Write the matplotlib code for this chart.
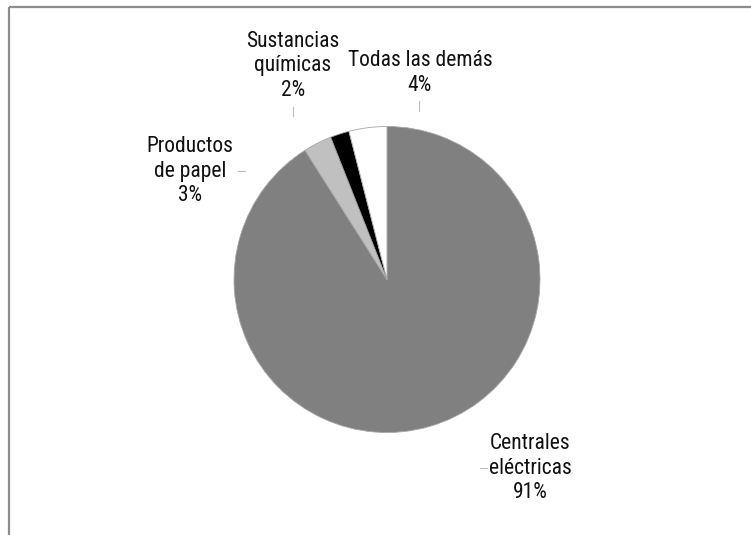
import matplotlib.pyplot as plt

# sector shares, clockwise from twelve o'clock
sectors = ['Centrales\neléctricas', 'Productos\nde papel', 'Sustancias\nquímicas', 'Todas las demás']
shares = [91, 3, 2, 4]
colors = ['#808080', '#c0c0c0', '#000000', '#ffffff']

family = ['Roboto Condensed', 'DejaVu Sans']

W, H = 751, 535
fig = plt.figure(figsize=(W / 100, H / 100), dpi=100)
ax = fig.add_axes([0, 0, 1, 1])

ax.pie(shares, colors=colors, startangle=90, counterclock=False,
       center=(387, H - 279.5), radius=153,
       wedgeprops=dict(edgecolor='#a6a6a6', linewidth=0.6))
ax.set_xlim(0, W)
ax.set_ylim(0, H)
ax.set_aspect('equal')
ax.axis('off')

# label text positions (centre of block) and leader lines
label_pos = [(530, H - 468), (190, H - 171), (293, H - 66), (420, H - 73)]
leaders = [((480, 487), (H - 468, H - 468)),
           ((238, 245), (H - 171, H - 171)),
           ((293, 293), (H - 107, H - 116)),
           ((419, 419), (H - 101, H - 111))]

for name, val, (x, y), (lx, ly) in zip(sectors, shares, label_pos, leaders):
    ax.text(x, y, f'{name}\n{val}%', ha='center', va='center',
            fontsize=15.5, family=family, linespacing=1.2, color='#111111')
    ax.plot(lx, ly, color='#bdbdbd', lw=0.8)

# outer frame (top and left only reach into the image)
ax.plot([9, W], [H - 7, H - 7], color='#8c8c8c', lw=1.6, solid_capstyle='butt')
ax.plot([9, 9], [H - 7, 0], color='#8c8c8c', lw=1.6, solid_capstyle='butt')

fig.savefig('out.png', dpi=100)
